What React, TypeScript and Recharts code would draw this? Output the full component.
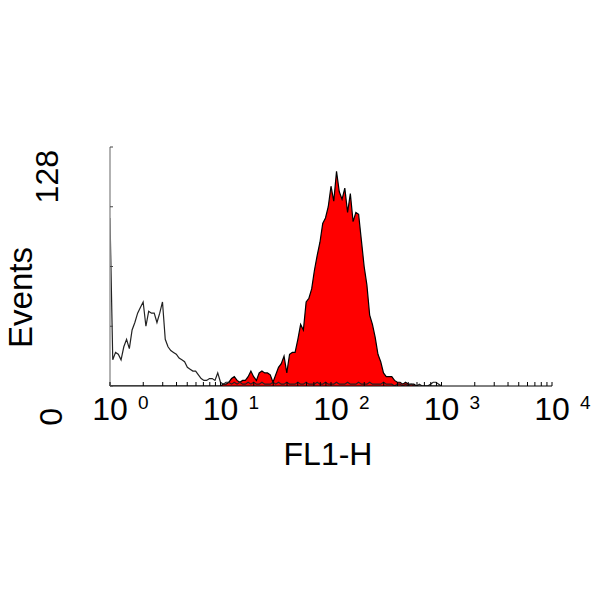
import { ComposedChart, Area, XAxis, YAxis } from "recharts";

// histogram channels: 0.025 decade per channel, counts
const CHANNEL_STEP = 0.025;

const controlCounts = [
  90, 14, 18, 17, 14, 21, 25, 20, 30, 34,
  39, 42, 45, 32, 40, 39, 39, 34, 39, 45,
  25, 21, 19, 18, 17, 15, 14, 13, 10, 9,
  8, 8, 6, 4, 3, 3, 4, 4, 3, 7,
  2, 1, 2, 2, 1, 2, 1, 2, 1, 1,
  2, 1, 2, 1, 1, 2, 1, 1, 1, 2,
  1, 2, 1, 1, 2, 1, 1, 1, 2, 1,
  1, 2, 1, 1, 1, 2, 1, 1, 2, 1,
  1, 1, 2, 1, 1, 1, 2, 1, 1, 1,
  2, 1, 1, 1, 2, 1, 1, 1, 1, 2,
  1, 1, 1, 0, 1, 1, 0, 1, 0, 1,
  0, 0, 1, 0, 0, 0, 1, 2, 2, 1,
  0,
];

const stainedCounts = [
  0, 0, 0, 0, 0, 0, 0, 0, 0, 0,
  0, 0, 0, 0, 0, 0, 0, 0, 0, 0,
  0, 0, 0, 0, 0, 0, 0, 0, 0, 0,
  0, 0, 0, 0, 0, 0, 0, 0, 0, 0,
  0, 1, 1, 2, 4, 5, 3, 2, 3, 3,
  5, 8, 5, 3, 7, 8, 7, 7, 6, 2,
  6, 10, 12, 16, 7, 17, 18, 18, 25, 33,
  30, 45, 47, 52, 62, 70, 77, 87, 90, 96,
  107, 99, 115, 104, 100, 106, 93, 103, 88, 93,
  92, 78, 64, 54, 38, 33, 26, 17, 13, 7,
  5, 5, 5, 3, 2, 2, 1, 2, 1, 1,
  1, 0, 0, 0, 0, 0, 0, 0, 0, 0,
  0,
];

const decades = [0, 1, 2, 3, 4];
const minorSteps = [2, 3, 4, 5, 6, 7, 8, 9];
const yTicks = [0, 32, 64, 96, 128];
const yLabels: Record<number, string> = { 0: "0", 128: "128" };

const data = controlCounts.map((c, i) => ({
  x: i * CHANNEL_STEP,
  control: c,
  stained: stainedCounts[i],
}));

const xTicks = [
  ...decades,
  ...decades.slice(0, 4).flatMap((d) => minorSteps.map((k) => d + Math.log10(k))),
].sort((a, b) => a - b);

const FONT = "'Liberation Sans', Arial, sans-serif";

const XTick = (props: any) => {
  const { x, y, payload } = props;
  const v = payload.value;
  const major = Number.isInteger(v);
  return (
    <g>
      <line x1={x} y1={y} x2={x} y2={y - 4} stroke="#000" strokeWidth={1} />
      {major && (
        <>
          <text x={x} y={y + 34} textAnchor="middle" fontSize={32} fontFamily={FONT} fill="#000">
            10
          </text>
          <text x={x + 28} y={y + 23} textAnchor="start" fontSize={19} fontFamily={FONT} fill="#000">
            {v}
          </text>
        </>
      )}
    </g>
  );
};

const YTick = (props: any) => {
  const { x, y, payload } = props;
  const label = yLabels[payload.value];
  const tx = payload.value === 0 ? x - 48 : x - 52;
  const ty = payload.value === 0 ? y + 22 : y + 3;
  return (
    <g>
      <line x1={x} y1={y} x2={x + 3} y2={y} stroke="#444" strokeWidth={1} />
      {label && (
        <text
          x={tx}
          y={ty}
          textAnchor="end"
          fontSize={32}
          fontFamily={FONT}
          fill="#000"
          transform={`rotate(-90, ${tx}, ${ty})`}
        >
          {label}
        </text>
      )}
    </g>
  );
};

const XLabel = (props: any) => {
  const vb = props.viewBox;
  return (
    <text
      x={vb.x + vb.width / 2 - 3}
      y={vb.y + 79}
      textAnchor="middle"
      fontSize={32}
      fontFamily={FONT}
      fill="#000"
    >
      FL1-H
    </text>
  );
};

const YLabel = (props: any) => {
  const vb = props.viewBox;
  const lx = vb.x - 18;
  const ly = vb.y + vb.height / 2 + 31;
  return (
    <text
      x={lx}
      y={ly}
      textAnchor="middle"
      fontSize={33}
      fontFamily={FONT}
      fill="#000"
      transform={`rotate(-90, ${lx}, ${ly})`}
    >
      Events
    </text>
  );
};

export default function App() {
  return (
    <div style={{ position: "absolute", left: 0, top: 0, width: 594, height: 594, background: "#fff" }}>
      <ComposedChart
        width={594}
        height={594}
        data={data}
        margin={{ top: 147, right: 42, bottom: 148, left: 50 }}
      >
        <XAxis
          type="number"
          dataKey="x"
          domain={[0, 4]}
          ticks={xTicks}
          interval={0}
          height={60}
          tickLine={false}
          tickSize={0}
          tickMargin={0}
          axisLine={{ stroke: "#000", strokeWidth: 1 }}
          tick={XTick}
          label={{ value: "FL1-H", content: XLabel }}
          allowDataOverflow
        />
        <YAxis
          type="number"
          domain={[0, 128]}
          ticks={yTicks}
          interval={0}
          width={60}
          tickLine={false}
          tickSize={0}
          tickMargin={0}
          axisLine={{ stroke: "#999", strokeWidth: 1.5 }}
          tick={YTick}
          label={{ value: "Events", content: YLabel }}
          allowDataOverflow
        />
        <Area
          type="linear"
          dataKey="stained"
          fill="#ff0000"
          fillOpacity={1}
          stroke="#000"
          strokeWidth={1.2}
          dot={false}
          activeDot={false}
          isAnimationActive={false}
        />
        <Area
          type="linear"
          dataKey="control"
          fill="none"
          stroke="#222"
          strokeWidth={1.2}
          dot={false}
          activeDot={false}
          isAnimationActive={false}
        />
      </ComposedChart>
    </div>
  );
}
